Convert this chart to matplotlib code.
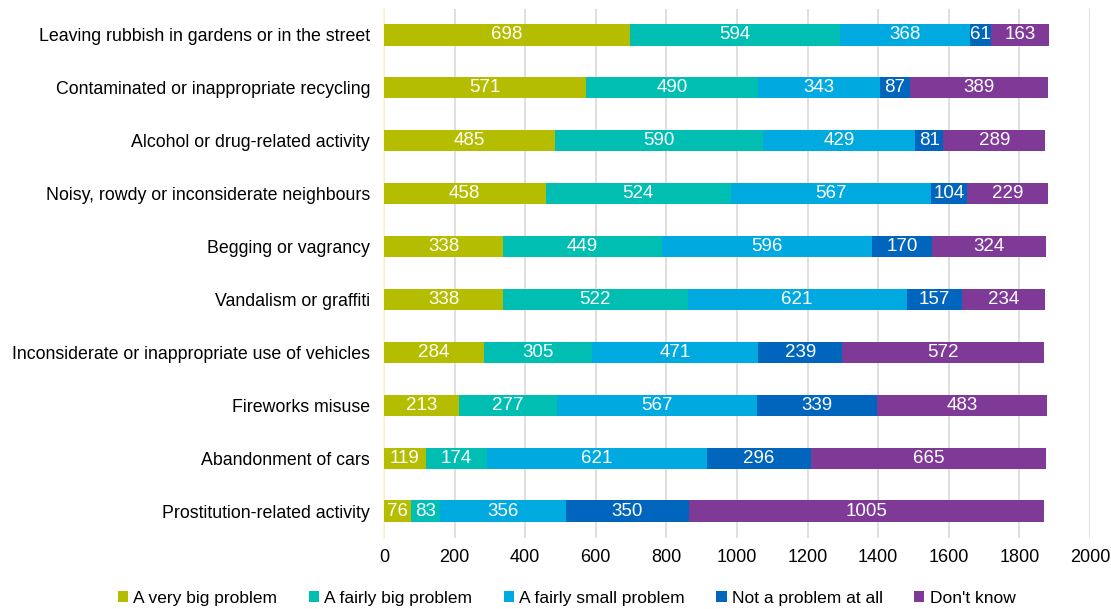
import matplotlib.pyplot as plt
import numpy as np

plt.rcParams['font.family'] = ['Liberation Sans', 'DejaVu Sans']

# Categories (top to bottom)
categories = [
    "Leaving rubbish in gardens or in the street",
    "Contaminated or inappropriate recycling",
    "Alcohol or drug-related activity",
    "Noisy, rowdy or inconsiderate neighbours",
    "Begging or vagrancy",
    "Vandalism or graffiti",
    "Inconsiderate or inappropriate use of vehicles",
    "Fireworks misuse",
    "Abandonment of cars",
    "Prostitution-related activity",
]

series_names = ["A very big problem", "A fairly big problem", "A fairly small problem",
                "Not a problem at all", "Don't know"]

very_big = [698, 571, 485, 458, 338, 338, 284, 213, 119, 76]
fairly_big = [594, 490, 590, 524, 449, 522, 305, 277, 174, 83]
fairly_small = [368, 343, 429, 567, 596, 621, 471, 567, 621, 356]
not_problem = [61, 87, 81, 104, 170, 157, 239, 339, 296, 350]
dont_know = [163, 389, 289, 229, 324, 234, 572, 483, 665, 1005]

colors = ['#B5BD00', '#00BFB2', '#00A9E0', '#0065BD', '#7F3A98']

fig = plt.figure(figsize=(11.11, 6.09), dpi=100)
ax = fig.add_axes([0.3456, 0.1174, 0.6354, 0.8686])

y = np.arange(len(categories))
left = np.zeros(len(categories))
for name, vals, c in zip(series_names, [very_big, fairly_big, fairly_small, not_problem, dont_know], colors):
    vals = np.array(vals)
    bars = ax.barh(y, vals, left=left, height=0.4, color=c, label=name, zorder=3)
    ax.bar_label(bars, labels=[str(v) for v in vals], label_type='center',
                 color='white', fontsize=13.5)
    left += vals

ax.set_ylim(len(categories) - 0.5, -0.5)
ax.set_xlim(0, 2000)
ax.set_xticks(np.arange(0, 2001, 200))
ax.set_yticks(y)
ax.set_yticklabels(categories, fontsize=12.8)
ax.tick_params(axis='x', labelsize=13, length=0, pad=8)
ax.tick_params(axis='y', length=0, pad=10)
ax.xaxis.grid(True, color='#D9D9D9', linewidth=1.2, zorder=0)
for s in ['top', 'right', 'bottom']:
    ax.spines[s].set_visible(False)
ax.spines['left'].set_color('#FFF2CC')
ax.spines['left'].set_linewidth(1.2)

fig.legend(loc='lower center', bbox_to_anchor=(0.51, -0.02), ncol=5, frameon=False,
           fontsize=12.5, handlelength=0.6, handleheight=0.6, handletextpad=0.3,
           columnspacing=1.8)

plt.savefig('out.png', dpi=100)
